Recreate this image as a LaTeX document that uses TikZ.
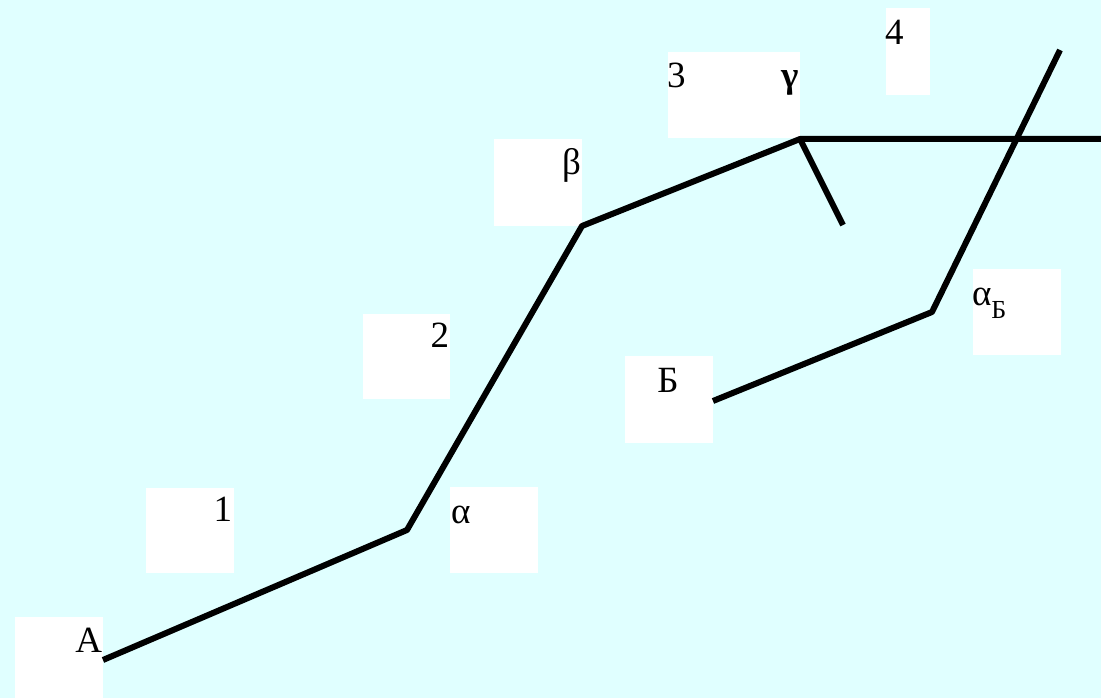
\documentclass[tikz,border=0pt]{standalone}
\usepackage{fontspec}
\setmainfont{Liberation Serif}
\definecolor{bg}{HTML}{E0FFFF}
\tikzset{
  box/.style={fill=white, draw=none, inner sep=0pt, outer sep=0pt, anchor=north west},
  lbl/.style={inner sep=0pt, outer sep=0pt, font=\fontsize{37}{42}\selectfont},
  route/.style={line width=6pt, black, line join=round},
}
\begin{document}
\begin{tikzpicture}[x=1pt, y=-1pt]
\useasboundingbox[fill=bg] (0,0) rectangle (1101,698);
% white boxes
\node[box, minimum width=88pt, minimum height=81pt] (bA) at (15,617) {};
\node[box, minimum width=88pt, minimum height=85pt] (b1) at (146,488) {};
\node[box, minimum width=87pt, minimum height=85pt] (b2) at (363,314) {};
\node[box, minimum width=88pt, minimum height=86pt] (bal) at (450,487) {};
\node[box, minimum width=88pt, minimum height=87pt] (bbe) at (494,139) {};
\node[box, minimum width=132pt, minimum height=86pt] (b3) at (668,52) {};
\node[box, minimum width=44pt, minimum height=87pt] (b4) at (886,8) {};
\node[box, minimum width=88pt, minimum height=87pt] (bB) at (625,356) {};
\node[box, minimum width=88pt, minimum height=86pt] (baB) at (973,269) {};
% labels
\node[lbl, anchor=base east] (tA) at (102,652) {A};
\node[lbl, anchor=base east] (t1) at (232,521) {1};
\node[lbl, anchor=base east] (t2) at (449,347) {2};
\node[lbl, anchor=base west] (tal) at (451,523) {α};
\node[lbl, anchor=base east] (tbe) at (581,175) {β};
\node[lbl, anchor=base west] (t3) at (667,88) {3};
\node[lbl, anchor=base east] (tga) at (799,88) {\bfseries γ};
\node[lbl, anchor=base west] (t4) at (885,45) {4};
\node[lbl, anchor=base] (tB) at (668,392) {Б};
\node[lbl, anchor=base west] (taB) at (972,305) {α\raisebox{-13pt}{\fontsize{26}{26}\selectfont Б}};
% route points
\coordinate (pA) at (103,660);
\coordinate (pal) at (407,530);
\coordinate (pbe) at (582,226);
\coordinate (pga) at (800,139);
\coordinate (pR) at (1101,139);
\coordinate (pbr) at (843,225);
\coordinate (pB) at (713,401);
\coordinate (paB) at (932,312);
\coordinate (pT) at (1060,50);
% lines
\draw[route] (pA) -- (pal) -- (pbe) -- (pga) -- (pR);
\draw[route] (pga) -- (pbr);
\draw[route] (pB) -- (paB) -- (pT);
\end{tikzpicture}
\end{document}
